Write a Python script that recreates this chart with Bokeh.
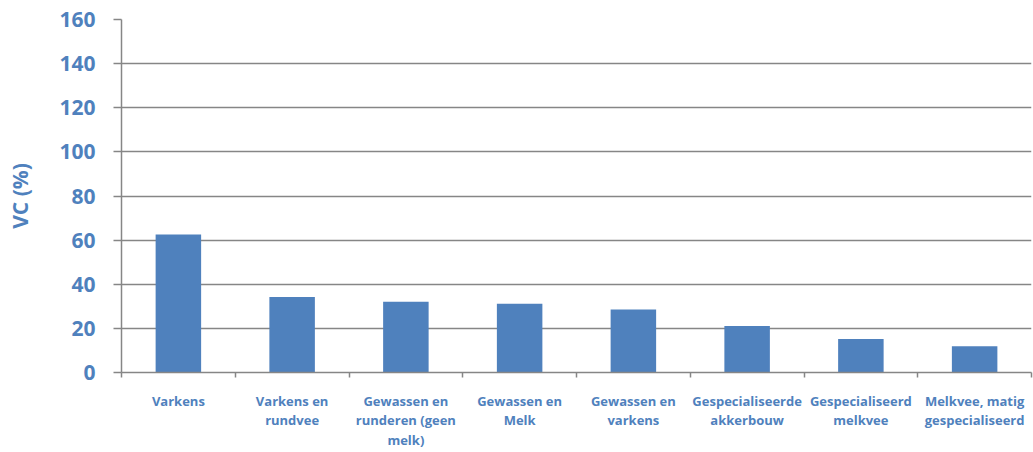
from bokeh.plotting import figure
from bokeh.models import Range1d, FixedTicker, ColumnDataSource
from bokeh.embed import file_html
from bokeh.resources import INLINE

categories = [
    "Varkens",
    "Varkens en\nrundvee",
    "Gewassen en\nrunderen (geen\nmelk)",
    "Gewassen en\nMelk",
    "Gewassen en\nvarkens",
    "Gespecialiseerde\nakkerbouw",
    "Gespecialiseerd\nmelkvee",
    "Melkvee, matig\ngespecialiseerd",
]
values = [62.5, 34.2, 32.1, 31.2, 28.5, 21.1, 15.2, 11.9]
y_ticks = [0, 20, 40, 60, 80, 100, 120, 140, 160]

BLUE = "#4F81BD"
GRAY = "#868686"
FONT = "Open Sans"

centers = [i + 0.5 for i in range(len(categories))]
bounds = list(range(len(categories) + 1))
src = ColumnDataSource(dict(x=centers, top=values))

p = figure(width=1033, height=452, output_backend="svg", toolbar_location=None,
           x_range=Range1d(0, len(categories)), y_range=Range1d(0, 160),
           min_border_left=121, min_border_right=2, min_border_top=19, min_border_bottom=79)
p.outline_line_color = None
p.background_fill_color = "white"
p.border_fill_color = "white"

p.vbar(x="x", top="top", width=0.4, source=src, fill_color=BLUE, line_color=None)

# x axis
p.xaxis.ticker = FixedTicker(ticks=centers, minor_ticks=bounds)
p.xaxis.major_label_overrides = {c: lab for c, lab in zip(centers, categories)}
p.xaxis.major_tick_out = 0
p.xaxis.major_tick_in = 0
p.xaxis.minor_tick_out = 5
p.xaxis.minor_tick_in = 0
p.xaxis.minor_tick_line_color = GRAY
p.xaxis.minor_tick_line_width = 1.5
p.xaxis.axis_line_color = GRAY
p.xaxis.axis_line_width = 1.5
p.xaxis.major_label_standoff = 14
p.xaxis.major_label_text_font = FONT
p.xaxis.major_label_text_font_style = "bold"
p.xaxis.major_label_text_font_size = "13px"
p.xaxis.major_label_text_color = BLUE
p.xaxis.major_label_text_line_height = 1.1
p.xaxis.major_label_text_align = "center"
p.xgrid.visible = False

# y axis
p.yaxis.ticker = FixedTicker(ticks=y_ticks)
p.yaxis.axis_label = "VC (%)"
p.yaxis.axis_label_text_font = FONT
p.yaxis.axis_label_text_font_style = "bold"
p.yaxis.axis_label_text_font_size = "21px"
p.yaxis.axis_label_text_color = BLUE
p.yaxis.axis_label_standoff = 22
p.yaxis.major_label_text_font = FONT
p.yaxis.major_label_text_font_style = "bold"
p.yaxis.major_label_text_font_size = "21px"
p.yaxis.major_label_text_color = BLUE
p.yaxis.major_label_standoff = 18
p.yaxis.major_tick_out = 8
p.yaxis.major_tick_in = 0
p.yaxis.major_tick_line_color = GRAY
p.yaxis.major_tick_line_width = 1.5
p.yaxis.minor_tick_line_color = None
p.yaxis.axis_line_color = GRAY
p.yaxis.axis_line_width = 1.5
p.ygrid.grid_line_color = GRAY
p.ygrid.grid_line_width = 1.5

open("out.html", "w").write(file_html(p, INLINE))
